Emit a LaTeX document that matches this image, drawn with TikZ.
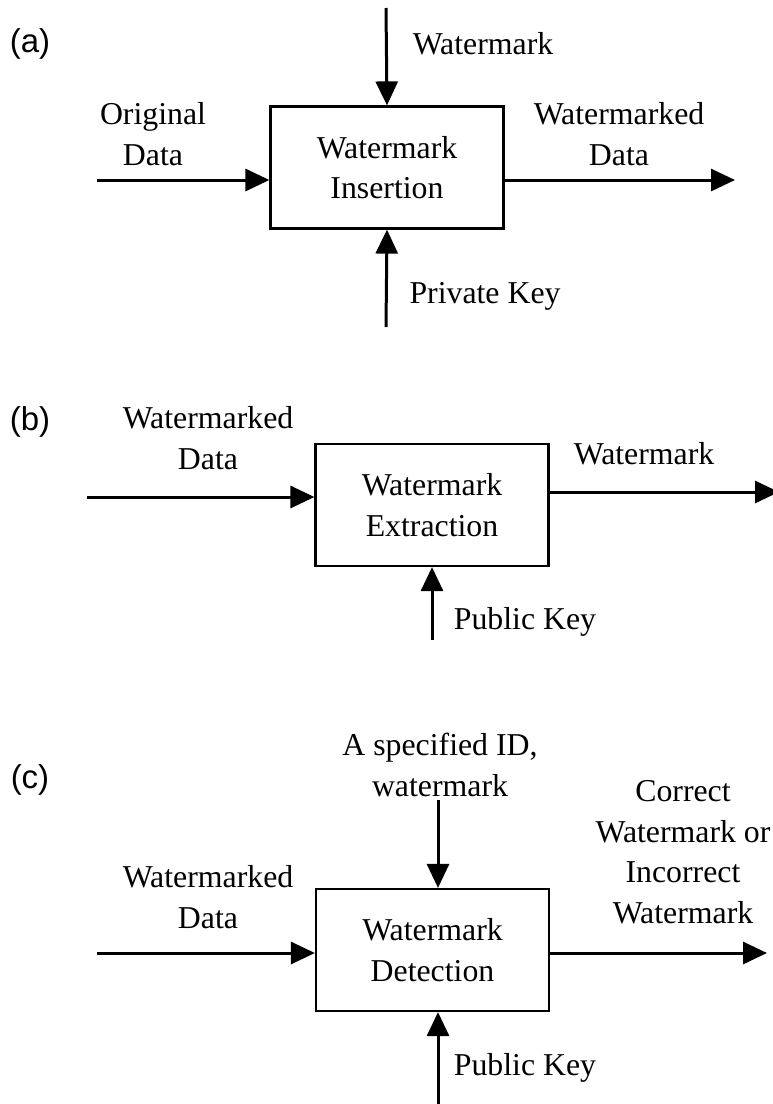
\documentclass[tikz,border=0pt]{standalone}
\usepackage{fontspec}
\setmainfont{Liberation Serif}
\newfontfamily\arl{Liberation Sans}
\usetikzlibrary{arrows.meta}
\newcommand{\tms}{\fontsize{15.9pt}{20.3pt}\selectfont}

\begin{document}
\begin{tikzpicture}[
		x=0.5pt, y=-0.5pt,
		block/.style={draw, line width=1.1pt, rectangle, inner sep=0pt, minimum width=116.5pt, minimum height=61pt, align=center, font=\tms},
		lbl/.style={align=center, font=\tms},
		tag/.style={font=\arl\fontsize{16.5pt}{20pt}\selectfont},
		flow/.style={line width=1.5pt, -{Triangle[length=12pt, width=11pt]}},
	]
	\useasboundingbox (0,0) rectangle (772,1104);

	% (a) insertion
	\node[tag] (taga) at (30,44) {(a)};
	\node[block] (insert) at (387,167.5) {Watermark\\Insertion};
	\node[lbl] (origa) at (153,134) {Original\\Data};
	\node[lbl] (wmdataa) at (619,134) {Watermarked\\Data};
	\node[lbl] (wma) at (483,44) {Watermark};
	\node[lbl] (privkey) at (485,296) {Private Key};
	\coordinate (ina) at (97,180);
	\coordinate (outa) at (735,180);
	\coordinate (topa) at (386,8);
	\coordinate (bota) at (386,327);

	% (b) extraction
	\node[tag] (tagb) at (30,422) {(b)};
	\node[block] (extract) at (432,505) {Watermark\\Extraction};
	\node[lbl] (wmdatab) at (208,438) {Watermarked\\Data};
	\node[lbl] (wmb) at (644,454) {Watermark};
	\node[lbl] (pubkeyb) at (525,622) {Public Key};
	\coordinate (inb) at (87,497);
	\coordinate (outb) at (779,492);
	\coordinate (botb) at (432,640);

	% (c) detection
	\node[tag] (tagc) at (30,780) {(c)};
	\node[block] (detect) at (432.5,950) {Watermark\\Detection};
	\node[lbl] (wmdatac) at (208,897) {Watermarked\\Data};
	\node[lbl] (spec) at (440,765) {A specified ID,\\watermark};
	\node[lbl] (result) at (683,852) {Correct\\Watermark or\\Incorrect\\Watermark};
	\node[lbl] (pubkeyc) at (525,1068) {Public Key};
	\coordinate (inc) at (97,953);
	\coordinate (outc) at (767,953);
	\coordinate (topc) at (438,800);
	\coordinate (botc) at (438,1106);

	\foreach \i/\j in {topa/insert.north, bota/insert.south, botb/extract.south}
		\draw[flow] (\i) -- (\j);

	\draw[flow] (ina) -- (ina -| insert.west);
	\draw[flow] (insert.east |- outa) -- (outa);
	\draw[flow] (inb) -- (inb -| extract.west);
	\draw[flow] (extract.east |- outb) -- (outb);
	\draw[flow] (inc) -- (inc -| detect.west);
	\draw[flow] (detect.east |- outc) -- (outc);
	\draw[flow] (topc) -- (topc |- detect.north);
	\draw[flow] (botc) -- (botc |- detect.south);
\end{tikzpicture}
\end{document}
